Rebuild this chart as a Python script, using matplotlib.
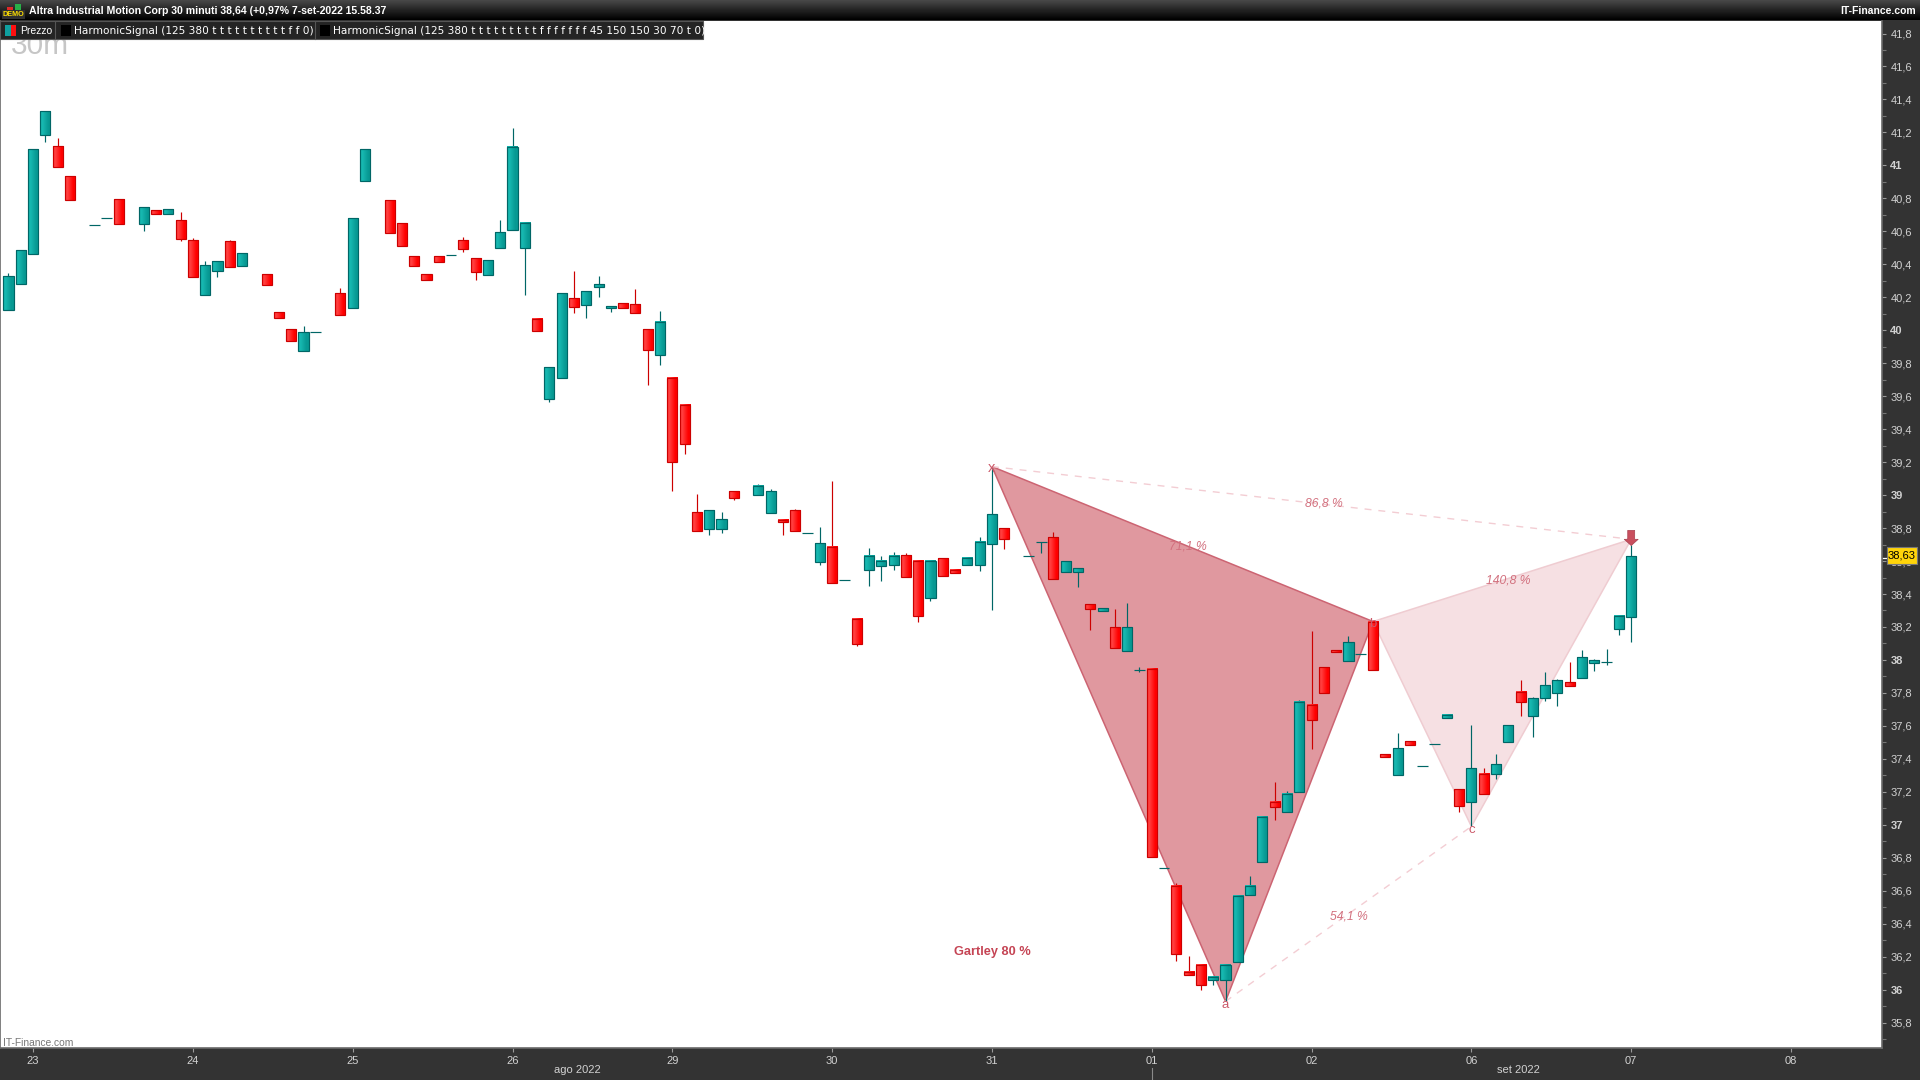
import numpy as np
import matplotlib
matplotlib.use("Agg")
import matplotlib.pyplot as plt
from matplotlib.patches import Rectangle, Polygon
from matplotlib.ticker import FixedLocator, FuncFormatter

W, H = 1920, 1080
plt.rcParams["font.family"] = ["Liberation Sans", "DejaVu Sans"]

# bar slot, open, high, low, close
bar_idx = [0, 1, 2, 3, 4, 5, 7, 8, 9, 11, 12, 13, 14, 15, 16, 17, 18, 19, 21, 22, 23, 24, 25, 27, 28, 29,
           31, 32, 33, 34, 35, 36, 37, 38, 39, 40, 41, 42, 43, 44, 45, 46, 47, 48, 49, 50, 51, 52, 53, 54, 55,
           56, 57, 58, 59, 61, 62, 63, 64, 65, 66, 67, 68, 69, 70, 71, 72, 73, 74, 75, 76, 77, 78, 79, 80, 81,
           83, 84, 85, 86, 87, 88, 89, 90, 91, 92, 93, 94, 95, 96, 97, 98, 99, 100, 101, 102, 103, 104, 105, 106,
           107, 108, 109, 110, 111, 112, 113, 114, 115, 116, 117, 118, 119, 120, 121, 122, 123, 124, 125, 126,
           127, 128, 129, 130, 131, 132]
opens = [40.125, 40.283, 40.465, 41.186, 41.115, 40.933, 40.636, 40.679, 40.794, 40.646, 40.727, 40.707, 40.667,
         40.545, 40.216, 40.361, 40.539, 40.392, 40.339, 40.109, 40.006, 39.876, 39.987, 40.224, 40.137, 40.907,
         40.788, 40.648, 40.448, 40.339, 40.448, 40.454, 40.545, 40.436, 40.337, 40.497, 40.606, 40.497, 40.067,
         39.586, 39.713, 40.194, 40.156, 40.265, 40.138, 40.164, 40.158, 40.006, 39.847, 39.709, 39.545,
         38.896, 38.797, 38.797, 39.024, 38.998, 38.894, 38.848, 38.909, 38.769, 38.597, 38.684, 38.484, 38.248,
         38.543, 38.567, 38.573, 38.636, 38.599, 38.373, 38.618, 38.545, 38.573, 38.573, 38.706, 38.799,
         38.629, 38.714, 38.744, 38.536, 38.536, 38.338, 38.296, 38.199, 38.057, 37.938, 37.944, 36.738, 36.629,
         36.107, 36.149, 36.057, 36.057, 36.166, 36.572, 36.772, 37.138, 37.075, 37.197, 37.726,
         37.956, 38.059, 37.996, 38.035, 38.229, 37.428, 37.305, 37.507, 37.356, 37.489, 37.645, 37.216, 37.141,
         37.307, 37.311, 37.505, 37.804, 37.663, 37.772, 37.802, 37.865, 37.893, 37.984, 37.986, 38.186, 38.263]
highs = [40.347, 40.485, 41.097, 41.328, 41.166, 40.933, 40.636, 40.679, 40.794, 40.745, 40.727, 40.733, 40.717,
         40.557, 40.418, 40.418, 40.547, 40.466, 40.339, 40.109, 40.006, 40.026, 39.987, 40.256, 40.679, 41.097,
         40.788, 40.648, 40.448, 40.339, 40.448, 40.454, 40.566, 40.436, 40.424, 40.667, 41.227, 40.649, 40.067,
         39.776, 40.225, 40.360, 40.237, 40.330, 40.146, 40.164, 40.251, 40.006, 40.117, 39.709, 39.545,
         39.008, 38.909, 38.898, 39.024, 39.068, 39.038, 38.848, 38.917, 38.769, 38.808, 39.086, 38.484, 38.248,
         38.680, 38.632, 38.656, 38.650, 38.599, 38.599, 38.618, 38.545, 38.618, 38.744, 39.163, 38.799,
         38.629, 38.714, 38.775, 38.599, 38.556, 38.338, 38.314, 38.310, 38.346, 37.956, 37.944, 36.738, 36.647,
         36.206, 36.149, 36.077, 36.158, 36.568, 36.691, 37.047, 37.261, 37.207, 37.758, 38.176,
         37.956, 38.059, 38.146, 38.035, 38.229, 37.428, 37.556, 37.507, 37.356, 37.489, 37.665, 37.216, 37.606,
         37.345, 37.430, 37.604, 37.879, 37.776, 37.928, 37.885, 37.988, 38.061, 38.006, 38.067, 38.265, 38.698]
lows = [40.125, 40.283, 40.465, 41.142, 40.992, 40.792, 40.636, 40.679, 40.646, 40.604, 40.707, 40.707, 40.543,
        40.325, 40.216, 40.325, 40.386, 40.392, 40.276, 40.076, 39.937, 39.876, 39.987, 40.095, 40.137, 40.907,
        40.592, 40.513, 40.392, 40.307, 40.416, 40.454, 40.475, 40.305, 40.337, 40.497, 40.606, 40.216, 39.994,
        39.566, 39.713, 40.107, 40.075, 40.204, 40.113, 40.138, 40.107, 39.665, 39.790, 39.022, 39.252,
        38.785, 38.755, 38.773, 38.971, 38.998, 38.894, 38.755, 38.785, 38.769, 38.573, 38.464, 38.484, 38.082,
        38.446, 38.476, 38.543, 38.506, 38.233, 38.355, 38.512, 38.525, 38.573, 38.542, 38.304, 38.676,
        38.629, 38.651, 38.494, 38.536, 38.445, 38.184, 38.296, 38.075, 38.057, 37.924, 36.802, 36.738, 36.172,
        36.087, 35.996, 36.026, 35.929, 36.166, 36.572, 36.772, 37.031, 37.075, 37.197, 37.461,
        37.802, 38.047, 37.996, 38.035, 37.936, 37.414, 37.305, 37.487, 37.356, 37.489, 37.645, 37.075, 36.990,
        37.184, 37.275, 37.505, 37.657, 37.535, 37.754, 37.723, 37.845, 37.893, 37.934, 37.970, 38.152, 38.110]
closes = [40.327, 40.485, 41.097, 41.328, 40.992, 40.792, 40.636, 40.679, 40.646, 40.745, 40.707, 40.733, 40.555,
          40.325, 40.394, 40.418, 40.386, 40.466, 40.276, 40.076, 39.937, 39.987, 39.987, 40.095, 40.679, 41.097,
          40.592, 40.513, 40.392, 40.307, 40.416, 40.454, 40.495, 40.355, 40.424, 40.594, 41.110, 40.649, 39.994,
          39.776, 40.225, 40.144, 40.237, 40.279, 40.146, 40.138, 40.107, 39.883, 40.049, 39.198, 39.307,
          38.785, 38.909, 38.854, 38.985, 39.054, 39.024, 38.834, 38.785, 38.769, 38.708, 38.464, 38.484, 38.094,
          38.630, 38.599, 38.630, 38.506, 38.264, 38.599, 38.512, 38.525, 38.618, 38.714, 38.884, 38.736,
          38.629, 38.714, 38.494, 38.599, 38.556, 38.308, 38.314, 38.075, 38.199, 37.938, 36.802, 36.738, 36.214,
          36.087, 36.026, 36.077, 36.149, 36.568, 36.629, 37.047, 37.106, 37.187, 37.744, 37.633,
          37.802, 38.047, 38.108, 38.035, 37.936, 37.414, 37.465, 37.487, 37.356, 37.489, 37.665, 37.117, 37.343,
          37.184, 37.368, 37.604, 37.742, 37.768, 37.847, 37.877, 37.845, 38.017, 37.998, 37.986, 38.265, 38.629]

# harmonic pattern points
pattern_idx = {"x": 80, "a": 99, "b": 111, "c": 119, "d": 132}
pattern_val = {"x": 39.173, "a": 35.929, "b": 38.233, "c": 36.990, "d": 38.732}
arrow_tip = 38.694
arrow_top = 38.786

day_ticks = [2, 15, 28, 41, 54, 67, 80, 93, 106, 119, 132, 145]
day_labels = ["23", "24", "25", "26", "29", "30", "31", "01", "02", "06", "07", "08"]
price_ticks = np.arange(35.8, 41.81, 0.2)
last_price = 38.63

TEAL_EDGE = "#006666"
RED_EDGE = "#cc0000"
teal_grad = np.array([[[0.09, 0.72, 0.69], [0.03, 0.60, 0.58]]])
red_grad = np.array([[[1.0, 0.24, 0.24], [1.0, 0.0, 0.0]]])
AXIS_TXT = "#d2d2d2"
PINK = "#d2707e"


def fx(x):
    return x / W


def fy(y):
    return 1 - y / H


fig = plt.figure(figsize=(19.2, 10.8), dpi=100, facecolor="#333333")
ax = fig.add_axes([0, fy(1048), 1882 / W, (1048 - 21) / H], facecolor="white")

# triangles sit under the candles
xab = [(pattern_idx[k], pattern_val[k]) for k in "xab"]
bcd = [(pattern_idx[k], pattern_val[k]) for k in "bcd"]
ax.add_patch(Polygon(xab, closed=True, facecolor="#e0989f", edgecolor="#cc6472", lw=1.1, zorder=1))
ax.add_patch(Polygon(bcd, closed=True, facecolor="#f6e0e3", edgecolor="#efccd1", lw=1.1, zorder=1))
for p, q in [("x", "d"), ("a", "c")]:
    ax.plot([pattern_idx[p], pattern_idx[q]], [pattern_val[p], pattern_val[q]], color="#f3cdd3",
            lw=1.0, dashes=(5, 5), zorder=1)

half = 0.41
for i, o, h, l, c in zip(bar_idx, opens, highs, lows, closes):
    up = c >= o
    edge = TEAL_EDGE if up else RED_EDGE
    top, bot = max(o, c), min(o, c)
    if h > top:
        ax.plot([i, i], [top, h], color=edge, lw=0.85, zorder=2, solid_capstyle="butt")
    if l < bot:
        ax.plot([i, i], [l, bot], color=edge, lw=0.85, zorder=2, solid_capstyle="butt")
    if o == c:
        ax.plot([i - half - 0.03, i + half + 0.03], [o, o], color=edge, lw=0.85, zorder=3, solid_capstyle="butt")
        continue
    ax.imshow(teal_grad if up else red_grad, extent=[i - half, i + half, bot, top], aspect="auto",
              interpolation="bilinear", zorder=3)
    ax.add_patch(Rectangle((i - half, bot), 2 * half, top - bot, fill=False, edgecolor=edge, lw=0.85, zorder=4))

ax.set_xlim(-0.691, 152.4)
ax.set_ylim(35.646, 41.876)

# pattern labels
for k in "xabc":
    off = {"x": -0.01, "a": -0.02, "b": -0.012, "c": -0.024}[k]
    ax.text(pattern_idx[k], pattern_val[k] + off, k, color="#cc5a6a", fontsize=10.5 if k == "x" else 9.5,
            ha="center", va="center", zorder=6)
pct_labels = [("x", "d", "86,8 %", 1.0, -0.006), ("x", "b", "71,1 %", 0.4, -0.012), ("b", "d", "140,8 %", 0.5, 0.0),
              ("a", "c", "54,1 %", 0.0, -0.015)]
for p, q, s, dx, dy in pct_labels:
    ax.text((pattern_idx[p] + pattern_idx[q]) / 2 + dx, (pattern_val[p] + pattern_val[q]) / 2 + dy, s, color=PINK,
            fontsize=8.7, style="italic", ha="center", va="center", zorder=6)
ax.text(pattern_idx["x"], 36.23, "Gartley 80 %", color="#c54454", fontsize=9.2, fontweight="bold",
        ha="center", va="center", zorder=6)
# sell arrow above the last bar
ax.annotate("", xy=(pattern_idx["d"], arrow_tip), xytext=(pattern_idx["d"], arrow_top),
            arrowprops=dict(arrowstyle="simple,head_length=0.45,head_width=1.0,tail_width=0.5",
                            facecolor="#c94f5e", edgecolor="#a84050", lw=0.5, shrinkA=0, shrinkB=0), zorder=7)

# axes ticks
for side in ["top", "right", "bottom", "left"]:
    ax.spines[side].set_color("#6a6a6a")
    ax.spines[side].set_linewidth(1.2)
ax.spines["top"].set_visible(False)
ax.yaxis.tick_right()
ax.yaxis.set_major_locator(FixedLocator(price_ticks))
ax.yaxis.set_minor_locator(FixedLocator(np.arange(35.7, 41.9, 0.2)))
ax.yaxis.set_major_formatter(FuncFormatter(lambda v, pos: ("%.1f" % v).replace(".", ",").replace(",0", "")))
ax.tick_params(axis="y", which="major", length=3, width=0.8, color="#9a9a9a", labelcolor=AXIS_TXT, labelsize=8, pad=3)
ax.tick_params(axis="y", which="minor", length=3, width=0.8, color="#777777")
for t, v in zip(ax.get_yticklabels(), price_ticks):
    if abs(v - round(v)) < 1e-6:
        t.set_fontweight("bold")
ax.set_xticks(day_ticks)
ax.set_xticklabels(day_labels)
ax.tick_params(axis="x", length=3, width=0.8, color="#9a9a9a", labelcolor=AXIS_TXT, labelsize=8, pad=3)

fig.text(fx(577), fy(1070), "ago 2022", color=AXIS_TXT, fontsize=8, ha="center", va="center")
fig.text(fx(1518), fy(1070), "set 2022", color=AXIS_TXT, fontsize=8, ha="center", va="center")
fig.add_artist(plt.Line2D([fx(1152), fx(1152)], [fy(1068), fy(1080)], color="#8a8a8a", lw=0.8))
fig.text(fx(3), fy(1043), "IT-Finance.com", color="#777777", fontsize=7.4, ha="left", va="center")
fig.text(fx(11), fy(54), "30m", color="#c6c6c6", fontsize=21.5, ha="left", va="baseline", zorder=1)

# last price box
fig.patches.append(Rectangle((fx(1887), fy(564)), 30 / W, 17 / H, transform=fig.transFigure, facecolor="#ffd40a",
                             edgecolor="#777777", lw=0.8, zorder=5))
fig.text(fx(1902), fy(555.5), ("%.2f" % last_price).replace(".", ","), color="black", fontsize=8, ha="center",
         va="center", zorder=6)
fig.add_artist(plt.Line2D([fx(1883), fx(1887)], [fy(557.5), fy(557.5)], color="white", lw=0.9))

# title bar
bar = fig.add_axes([0, fy(20), 1, 20 / H])
bar.imshow(np.linspace(0.28, 0.0, 20).reshape(-1, 1), cmap="gray", vmin=0, vmax=1, aspect="auto")
bar.axis("off")
fig.text(fx(29), fy(10.5), "Altra Industrial Motion Corp 30 minuti 38,64 (+0,97% 7-set-2022 15.58.37", color="white",
         fontsize=7.53, fontweight="bold", ha="left", va="center", zorder=8)
fig.text(fx(1916), fy(10.5), "IT-Finance.com", color="white", fontsize=7.5, fontweight="bold", ha="right",
         va="center", zorder=8)

# small DEMO badge
fig.patches.append(Rectangle((fx(2), fy(19)), 23 / W, 9 / H, transform=fig.transFigure, facecolor="#303030",
                             edgecolor="none", zorder=8))
fig.text(fx(13.5), fy(14.5), "DEMO", color="#ffe000", fontsize=5.2, fontweight="bold", ha="center", va="center", zorder=9)
fig.patches.append(Rectangle((fx(7), fy(10)), 6 / W, 3 / H, transform=fig.transFigure, facecolor="#e02828", zorder=9))
fig.patches.append(Rectangle((fx(15), fy(10)), 6 / W, 6 / H, transform=fig.transFigure, facecolor="#28b048", zorder=9))

# legend strip
fig.patches.append(Rectangle((0, fy(39)), 703 / W, 18 / H, transform=fig.transFigure, facecolor="#242424",
                             edgecolor="#555555", lw=0.8, zorder=8))
fig.patches.append(Rectangle((fx(5), fy(36)), 5.5 / W, 11 / H, transform=fig.transFigure, facecolor="#0fa0a0", zorder=9))
fig.patches.append(Rectangle((fx(10.5), fy(36)), 5.5 / W, 11 / H, transform=fig.transFigure, facecolor="#ff1010", zorder=9))
fig.text(fx(20), fy(30.5), "Prezzo", color="white", fontsize=7.5, ha="left", va="center", zorder=9)
for sx in [55, 314.5]:
    fig.add_artist(plt.Line2D([fx(sx), fx(sx)], [fy(22), fy(39)], color="#555555", lw=0.8, zorder=9))
for bx in [60.5, 319.5]:
    fig.patches.append(Rectangle((fx(bx), fy(36)), 10.5 / W, 11 / H, transform=fig.transFigure, facecolor="black", zorder=9))
fig.text(fx(73.5), fy(30.5), "HarmonicSignal (125 380 t t t t t t t t t t f f 0)", color="white", fontsize=7.55,
         family="DejaVu Sans", ha="left", va="center", zorder=9)
fig.text(fx(333), fy(30.5), "HarmonicSignal (125 380 t t t t t t t t t f f f f f f f 45 150 150 30 70 t 0)", color="white",
         fontsize=7.55, family="DejaVu Sans", ha="left", va="center", zorder=9)

fig.savefig("out.png", dpi=100, facecolor=fig.get_facecolor())
